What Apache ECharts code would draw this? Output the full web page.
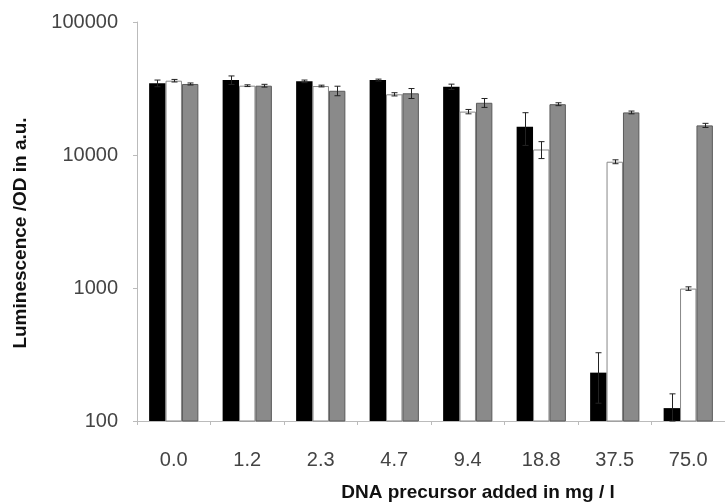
<!DOCTYPE html>
<html>
<head>
<meta charset="utf-8">
<script src="https://cdn.jsdelivr.net/npm/echarts@6/dist/echarts.min.js"></script>
<style>
  html, body { margin: 0; padding: 0; background: #fff; }
  #chart { width: 725px; height: 502px; }
</style>
</head>
<body>
<div id="chart"></div>
<script>
// DNA precursor concentrations (mg / l)
const categories = ['0.0', '1.2', '2.3', '4.7', '9.4', '18.8', '37.5', '75.0'];

// Luminescence / OD (a.u.) for the three strains
const blackValues = [34600, 36600, 35800, 36600, 32600, 16300, 231, 125];
const whiteValues = [36200, 33200, 33000, 28600, 21200, 11000, 8900, 990];
const grayValues  = [34200, 33200, 30400, 29100, 24700, 24100, 20900, 16700];

// Standard deviations (a.u.)
const blackErrors = [2000, 2700, 800, 600, 1500, 4500, 95, 35];
const whiteErrors = [800, 500, 500, 800, 800, 1600, 300, 30];
const grayErrors  = [600, 800, 2500, 2500, 1900, 600, 500, 600];

// Log-axis tick values
const yTicks = [100, 1000, 10000, 100000];

const CATEGORY_GAP = 0.33;
const FONT = '"Liberation Sans", Arial, Helvetica, sans-serif';

function errorSeries(values, errors, slot) {
  const data = values.map((v, i) => [i, v, errors[i]]);
  return {
    type: 'custom',
    z: 10,
    silent: true,
    data: data,
    encode: { x: 0, y: 1 },
    renderItem: function (params, api) {
      const i = api.value(0);
      const v = api.value(1);
      const e = api.value(2);
      const p0 = api.coord([0, v]);
      const p1 = api.coord([1, v]);
      const band = p1[0] - p0[0];
      const barW = band * (1 - CATEGORY_GAP) / 3;
      const center = api.coord([i, v]);
      const x = Math.round(center[0] + (slot - 1) * barW) + 0.5;
      const top = api.coord([i, v + e])[1];
      const bot = api.coord([i, Math.max(v - e, 100)])[1];
      const cap = 3;
      const style = { stroke: '#222', lineWidth: 1, fill: null };
      return {
        type: 'group',
        children: [
          { type: 'line', shape: { x1: x, y1: top, x2: x, y2: bot }, style: style },
          { type: 'line', shape: { x1: x - cap, y1: top, x2: x + cap, y2: top }, style: style },
          { type: 'line', shape: { x1: x - cap, y1: bot, x2: x + cap, y2: bot }, style: style }
        ]
      };
    }
  };
}

const chart = echarts.init(document.getElementById('chart'), null, { renderer: 'canvas' });

chart.setOption({
  animation: false,
  backgroundColor: '#ffffff',
  textStyle: { fontFamily: FONT },
  grid: { left: 137, right: 0, top: 22, bottom: 81, containLabel: false },
  xAxis: {
    type: 'category',
    data: categories,
    axisLine: { show: true, lineStyle: { color: '#bbbbbb', width: 1 } },
    axisTick: { show: true, alignWithLabel: false, length: 4, lineStyle: { color: '#bbbbbb' } },
    axisLabel: { color: '#444', fontSize: 20, fontFamily: FONT, margin: 29, interval: 0 },
    splitLine: { show: false }
  },
  yAxis: {
    type: 'log',
    logBase: 10,
    min: yTicks[0],
    max: yTicks[yTicks.length - 1],
    axisLine: { show: true, lineStyle: { color: '#bbbbbb', width: 1 } },
    axisTick: { show: true, length: 4, lineStyle: { color: '#bbbbbb' } },
    axisLabel: {
      color: '#444', fontSize: 20, fontFamily: FONT, margin: 19,
      formatter: function (v) { return String(Math.round(v)); }
    },
    splitLine: { show: false }
  },
  series: [
    {
      name: 'black', type: 'bar', data: blackValues,
      barGap: '0%', barCategoryGap: (CATEGORY_GAP * 100) + '%',
      itemStyle: { color: '#000000' }
    },
    {
      name: 'white', type: 'bar', data: whiteValues,
      itemStyle: { color: '#ffffff', borderColor: '#888888', borderWidth: 1 }
    },
    {
      name: 'gray', type: 'bar', data: grayValues,
      itemStyle: { color: '#8a8a8a', borderColor: '#5a5a5a', borderWidth: 1 }
    },
    errorSeries(blackValues, blackErrors, 0),
    errorSeries(whiteValues, whiteErrors, 1),
    errorSeries(grayValues, grayErrors, 2)
  ],
  graphic: [
    {
      type: 'text',
      x: 21, y: 233,
      rotation: Math.PI / 2,
      style: {
        text: 'Luminescence /OD in a.u.',
        fontFamily: FONT,
        fontWeight: 'bold', fontSize: 19, fill: '#111',
        align: 'center', verticalAlign: 'middle'
      }
    },
    {
      type: 'text',
      x: 478, y: 493,
      style: {
        text: 'DNA precursor added in mg / l',
        fontFamily: FONT,
        fontWeight: 'bold', fontSize: 19, fill: '#111',
        align: 'center', verticalAlign: 'middle'
      }
    }
  ]
});
</script>
</body>
</html>
